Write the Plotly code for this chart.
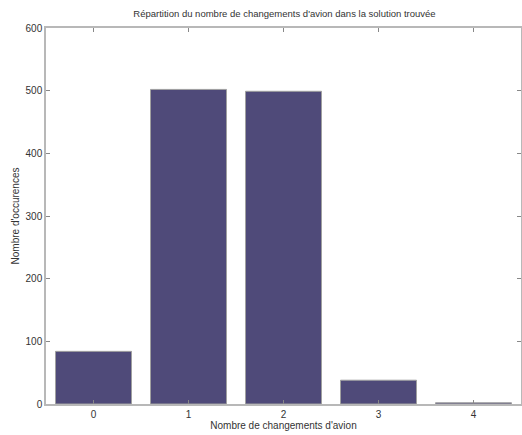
import plotly.graph_objects as go

categories = [0, 1, 2, 3, 4]
counts = [84, 502, 499, 38, 2]
y_ticks = [0, 100, 200, 300, 400, 500, 600]

fig = go.Figure(go.Bar(
    x=categories, y=counts, width=0.8,
    marker=dict(color="#4f4a79", line=dict(color="#a0a0a0", width=1)),
    hoverinfo="skip",
))

axis_common = dict(showline=True, linecolor="#b8b8b8", linewidth=1.5, mirror="ticks",
                   ticks="inside", ticklen=4, tickcolor="#888888", showgrid=False,
                   zeroline=False, automargin=False, tickfont=dict(size=10, color="#333333"))

fig.update_layout(
    width=522, height=435,
    margin=dict(l=46, r=1, t=28, b=31),
    paper_bgcolor="white", plot_bgcolor="white",
    font=dict(family="Liberation Sans, Arial, sans-serif", size=10, color="#333333"),
    title=dict(text="Répartition du nombre de changements d'avion dans la solution trouvée",
               x=0.545, xanchor="center", y=1 - 14 / 435, yref="container", yanchor="middle",
               font=dict(size=9.5)),
    showlegend=False,
)
fig.update_xaxes(range=[-0.5, 4.5], tickvals=categories, ticktext=[str(c) for c in categories],
                 ticklabelstandoff=0,
                 title=dict(text="Nombre de changements d'avion", standoff=0, font=dict(size=10)),
                 **axis_common)
fig.update_yaxes(range=[0, 600], tickvals=y_ticks,
                 title=dict(text="Nombre d'occurences", standoff=4, font=dict(size=10)),
                 **axis_common)

fig.write_html("out.html", config={"displayModeBar": False},
               post_script="document.body.style.margin='0';document.body.style.overflow='hidden';")
